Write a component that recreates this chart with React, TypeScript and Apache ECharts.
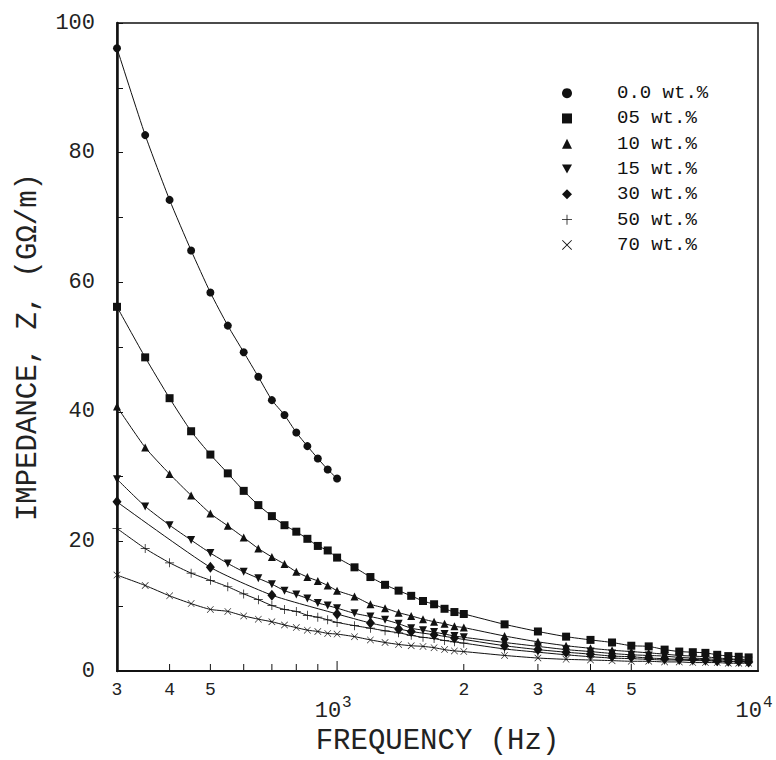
import React, { useEffect, useRef } from 'react';
import * as echarts from 'echarts';

// Frequencies (Hz)
const FREQ = [300, 350, 400, 450, 500, 550, 600, 650, 700, 750, 800, 850, 900, 950, 1000,
  1100, 1200, 1300, 1400, 1500, 1600, 1700, 1800, 1900, 2000,
  2500, 3000, 3500, 4000, 4500, 5000, 5500, 6000, 6500, 7000, 7500, 8000, 8500, 9000, 9500];
const FREQ_00 = [300, 350, 400, 450, 500, 550, 600, 650, 700, 750, 800, 850, 900, 950, 1000];
const FREQ_30 = [300, 500, 700, 1000, 1200, 1400, 1500, 1700, 1900,
  2500, 3000, 3500, 4000, 4500, 5000, 5500, 6000, 6500, 7000, 7500, 8000, 8500, 9000, 9500];

// Impedance values (GOhm/m)
const Z_00 = [96.1, 82.7, 72.7, 64.9, 58.4, 53.3, 49.2, 45.4, 41.8, 39.5, 36.8, 34.7, 32.8, 31.1, 29.7];
const Z_05 = [56.2, 48.4, 42.1, 37.0, 33.4, 30.5, 27.8, 25.6, 23.9, 22.5, 21.5, 20.4, 19.3, 18.6, 17.5,
  16.0, 14.5, 13.3, 12.4, 11.6, 10.8, 10.3, 9.6, 9.1, 8.8,
  7.2, 6.1, 5.3, 4.8, 4.4, 3.9, 3.8, 3.3, 3.0, 2.9, 2.8, 2.5, 2.3, 2.2, 2.1];
const Z_10 = [40.8, 34.5, 30.4, 27.1, 24.3, 22.4, 20.6, 18.9, 17.6, 16.5, 15.3, 14.5, 13.9, 13.2, 12.4,
  11.5, 10.3, 9.7, 9.0, 8.5, 8.0, 7.6, 7.3, 6.9, 6.7,
  5.4, 4.5, 3.9, 3.5, 3.2, 3.0, 2.8, 2.6, 2.4, 2.3, 2.2, 2.0, 1.9, 1.8, 1.8];
const Z_15 = [29.6, 25.4, 22.5, 20.2, 18.2, 16.6, 15.3, 14.3, 13.4, 12.4, 11.8, 11.2, 10.5, 10.1, 9.7,
  8.9, 8.4, 7.9, 7.3, 6.6, 6.3, 6.0, 5.7, 5.4, 5.2,
  4.4, 3.8, 3.3, 3.0, 2.7, 2.5, 2.4, 2.3, 2.1, 2.0, 1.9, 1.8, 1.8, 1.7, 1.6];
const Z_30 = [26.1, 16.0, 11.7, 8.8, 7.4, 6.5, 6.1, 5.6, 5.1,
  3.9, 3.3, 2.9, 2.6, 2.3, 2.2, 2.0, 1.9, 1.8, 1.8, 1.7, 1.6, 1.5, 1.5, 1.4];
const Z_50 = [22.0, 18.9, 16.7, 15.1, 14.0, 13.0, 11.9, 11.0, 10.1, 9.5, 9.2, 8.6, 8.3, 7.9, 7.5,
  7.0, 6.6, 6.2, 5.9, 5.5, 5.2, 5.0, 4.7, 4.5, 4.3,
  3.4, 2.9, 2.5, 2.2, 2.0, 1.9, 1.8, 1.7, 1.7, 1.6, 1.6, 1.5, 1.5, 1.4, 1.4];
const Z_70 = [14.8, 13.2, 11.6, 10.4, 9.5, 9.2, 8.5, 8.0, 7.6, 7.1, 6.7, 6.3, 6.1, 5.8, 5.7,
  5.3, 4.8, 4.4, 4.1, 3.9, 3.8, 3.6, 3.3, 3.1, 3.0,
  2.4, 2.0, 1.8, 1.7, 1.6, 1.5, 1.5, 1.4, 1.4, 1.3, 1.3, 1.3, 1.2, 1.2, 1.2];

const SERIES_NAMES = ['0.0 wt.%', '05 wt.%', '10 wt.%', '15 wt.%', '30 wt.%', '50 wt.%', '70 wt.%'];

// x-axis tick marks and labels
const X_TICKS = [400, 500, 600, 700, 800, 900, 1000, 2000, 3000, 4000, 5000];
const X_LABELS = [
  { v: 300, t: '3' }, { v: 400, t: '4' }, { v: 500, t: '5' },
  { v: 2000, t: '2' }, { v: 3000, t: '3' }, { v: 4000, t: '4' }, { v: 5000, t: '5' },
];
const X_DECADES = [{ v: 1000, e: '3' }, { v: 10000, e: '4' }];

const FONT = 'Liberation Mono';
const INK = '#111';

const SYM_DOWN = 'path://M0,0L10,0L5,9Z';
const SYM_PLUS = 'path://M4.6,0H5.4V4.6H10V5.4H5.4V10H4.6V5.4H0V4.6H4.6Z';
const SYM_CROSS = 'path://M0,0.6L0.6,0L5,4.4L9.4,0L10,0.6L5.6,5L10,9.4L9.4,10L5,5.6L0.6,10L0,9.4L4.4,5Z';

const SYMBOLS: any[] = [
  { symbol: 'circle', size: 8 },
  { symbol: 'rect', size: 8 },
  { symbol: 'triangle', size: 8 },
  { symbol: SYM_DOWN, size: 8 },
  { symbol: 'diamond', size: [9, 11] },
  { symbol: SYM_PLUS, size: 9 },
  { symbol: SYM_CROSS, size: 7 },
];

function pairs(xs: number[], ys: number[]) {
  return xs.map((x, i) => [x, ys[i]]);
}

export default function App() {
  const ref = useRef<HTMLDivElement>(null);

  useEffect(() => {
    const chart = echarts.init(ref.current!, null, { renderer: 'svg' });
    const datasets = [
      pairs(FREQ_00, Z_00),
      pairs(FREQ, Z_05),
      pairs(FREQ, Z_10),
      pairs(FREQ, Z_15),
      pairs(FREQ_30, Z_30),
      pairs(FREQ, Z_50),
      pairs(FREQ, Z_70),
    ];
    const option: any = {
      animation: false,
      backgroundColor: '#fff',
      grid: {
        left: 117, top: 23, width: 641, height: 648,
        show: true, borderColor: INK, borderWidth: 1.5,
        outerBoundsMode: 'none',
      },
      legend: {
        orient: 'vertical', left: 557, top: 78,
        itemWidth: 10, itemHeight: 10, itemGap: 5,
        selectedMode: false,
        textStyle: { fontFamily: FONT, fontSize: 19, color: INK, padding: [0, 0, 0, 40], lineHeight: 20.3 },
        data: SERIES_NAMES.map((n, i) => ({ name: n, icon: SYMBOLS[i].symbol })),
      },
      xAxis: {
        type: 'log', logBase: 10, min: 300, max: 10000,
        axisLine: { show: true, onZero: false, lineStyle: { color: INK, width: 2 } },
        axisTick: { show: false }, axisLabel: { show: false },
        splitLine: { show: false }, minorTick: { show: false }, minorSplitLine: { show: false },
        name: 'FREQUENCY (Hz)', nameLocation: 'middle', nameGap: 56,
        nameTextStyle: { fontFamily: FONT, fontSize: 29, color: '#222' },
      },
      yAxis: {
        type: 'value', min: 0, max: 100, interval: 20,
        axisLine: { show: true, lineStyle: { color: INK, width: 2.5 } },
        axisTick: { show: true, inside: true, length: 6, lineStyle: { color: INK, width: 1 } },
        minorTick: { show: true, splitNumber: 2, length: 6, lineStyle: { color: INK, width: 1 } },
        axisLabel: { fontFamily: FONT, fontSize: 22, color: '#222', margin: 22 },
        splitLine: { show: false },
        name: 'IMPEDANCE, Z, (GΩ/m)', nameLocation: 'middle', nameGap: 74,
        nameTextStyle: { fontFamily: FONT, fontSize: 29, color: '#222' },
      },
      series: datasets.map((d, i) => ({
        name: SERIES_NAMES[i],
        type: 'line',
        data: d,
        smooth: 0.2,
        symbol: SYMBOLS[i].symbol,
        symbolSize: SYMBOLS[i].size,
        showAllSymbol: true,
        color: INK,
        itemStyle: { color: INK },
        lineStyle: { color: INK, width: 1 },
        emphasis: { disabled: true },
        z: 3,
      })),
    };
    chart.setOption(option);

    const px = (v: number) => chart.convertToPixel({ xAxisIndex: 0 }, v) as number;
    const yBottom = chart.convertToPixel({ yAxisIndex: 0 }, 0) as number;
    const graphics: any[] = [];
    X_TICKS.forEach((v) => {
      const x = px(v);
      const len = v === 1000 ? 10 : 7;
      graphics.push({
        type: 'line', silent: true,
        shape: { x1: x, y1: yBottom, x2: x, y2: yBottom - len },
        style: { stroke: INK, lineWidth: 1 },
      });
    });
    X_LABELS.forEach((l) => {
      graphics.push({
        type: 'text', silent: true, x: px(l.v), y: yBottom + 19,
        style: { text: l.t, fontFamily: FONT, fontSize: 18, fill: '#222', textAlign: 'center', textVerticalAlign: 'middle' },
      });
    });
    X_DECADES.forEach((d) => {
      const x = px(d.v);
      graphics.push({
        type: 'text', silent: true, x: x + 4, y: yBottom + 40,
        style: { text: '10', fontFamily: FONT, fontSize: 22, fill: '#222', textAlign: 'right', textVerticalAlign: 'middle' },
      });
      graphics.push({
        type: 'text', silent: true, x: x + 5, y: yBottom + 32,
        style: { text: d.e, fontFamily: FONT, fontSize: 16, fill: '#222', textAlign: 'left', textVerticalAlign: 'middle' },
      });
    });
    chart.setOption({ graphic: graphics });

    return () => chart.dispose();
  }, []);

  return (
    <div
      ref={ref}
      style={{ position: 'absolute', left: 0, top: 0, width: 776, height: 760, background: '#fff' }}
    />
  );
}
